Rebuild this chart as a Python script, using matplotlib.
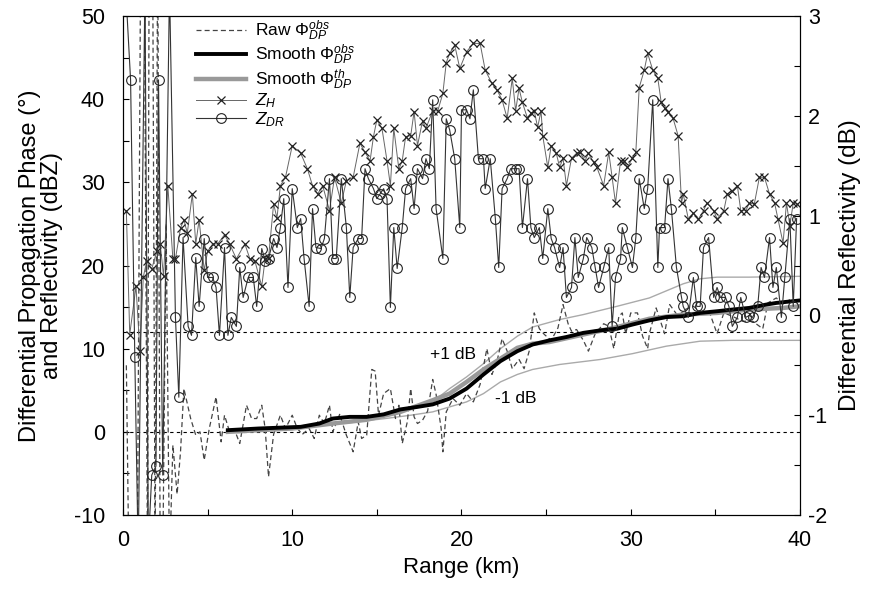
import numpy as np
import matplotlib.pyplot as plt
from matplotlib.ticker import MultipleLocator

plt.rcParams['font.family'] = ['Liberation Sans', 'DejaVu Sans']
plt.rcParams['mathtext.fontset'] = 'custom'
plt.rcParams['mathtext.rm'] = 'Liberation Sans'
plt.rcParams['mathtext.it'] = 'Liberation Sans:italic'
plt.rcParams['axes.unicode_minus'] = False

# reflectivity Z_H (dBZ), left axis
zh_km = [0.2, 0.4, 0.77, 1.0, 1.2, 1.4, 1.7, 2.0, 2.2, 2.4, 2.65, 2.95, 3.1, 3.4, 3.6, 3.8,
         4.1, 4.3, 4.5, 4.8, 5.0, 5.3, 5.6, 6.0, 6.3, 6.7, 7.2, 7.5, 7.8, 8.2, 8.4, 8.6,
         8.9, 9.1, 9.3, 9.6, 10.0, 10.5, 10.9, 11.2, 11.5, 11.8, 12.2, 12.5, 12.9, 13.2, 13.6, 14.0,
         14.3, 14.6, 14.8, 15.0, 15.3, 15.6, 15.8, 16.0, 16.3, 16.5, 16.7, 17.0, 17.2, 17.4, 17.7, 17.9,
         18.3, 18.6, 18.9, 19.1, 19.3, 19.6, 19.9, 20.3, 20.7, 21.1, 21.4, 21.8, 22.1, 22.4, 22.7, 23.0,
         23.2, 23.4, 23.6, 23.9, 24.1, 24.3, 24.5, 24.7, 24.8, 25.1, 25.3, 25.6, 25.8, 26.0, 26.2, 26.5,
         26.8, 27.0, 27.3, 27.5, 27.8, 28.0, 28.4, 28.7, 28.9, 29.1, 29.4, 29.6, 29.8, 30.1, 30.3, 30.5,
         30.8, 31.0, 31.3, 31.6, 31.8, 32.0, 32.2, 32.5, 32.8, 33.0, 33.1, 33.4, 33.7, 34.0, 34.3, 34.5,
         34.9, 35.1, 35.5, 35.7, 36.0, 36.3, 36.5, 36.8, 37.0, 37.3, 37.6, 37.9, 38.2, 38.5, 38.7, 39.0,
         39.2, 39.4, 39.6, 39.8]
zh_dbz = [26.6, 11.7, 17.5, 9.7, 18.6, 20.5, 19.6, 21.7, 22.6, 18.7, 29.6, 20.8, 20.8, 24.5, 25.5, 23.9,
          28.6, 22.6, 25.5, 19.4, 21.7, 22.6, 22.6, 23.7, 22.6, 20.8, 22.6, 20.8, 20.5, 17.5, 20.8, 20.9,
          27.4, 25.7, 29.6, 30.6, 34.4, 33.5, 31.6, 29.6, 28.6, 29.6, 26.6, 30.6, 27.5, 30.2, 30.6, 34.7,
          33.6, 32.6, 35.5, 37.5, 36.5, 32.6, 29.6, 36.5, 31.6, 32.6, 35.5, 35.6, 38.5, 34.4, 37.4, 36.5,
          38.6, 38.6, 40.7, 44.4, 45.5, 46.5, 43.7, 45.7, 46.7, 46.7, 43.5, 41.9, 41.1, 39.9, 37.7, 42.5,
          38.6, 41.3, 39.6, 37.7, 38.3, 38.6, 36.6, 38.6, 35.6, 31.8, 34.4, 33.5, 31.8, 32.9, 29.6, 32.9,
          33.5, 33.6, 32.6, 33.5, 32.4, 31.8, 29.6, 33.6, 30.6, 27.5, 32.6, 32.6, 31.8, 32.9, 33.6, 41.4,
          43.5, 45.5, 43.5, 42.5, 39.6, 38.9, 38.4, 37.7, 35.6, 27.5, 28.6, 25.6, 26.3, 25.6, 26.6, 27.5,
          26.6, 25.6, 26.6, 28.6, 29.0, 29.6, 26.6, 26.6, 27.5, 27.4, 30.6, 30.6, 28.6, 27.5, 25.6, 22.7,
          27.5, 24.8, 27.5, 27.4]

# differential reflectivity Z_DR (dB), right axis
zdr_km = [0.15, 0.45, 0.7, 0.9, 1.3, 1.5, 1.7, 1.95, 2.1, 2.35, 2.75, 3.1, 3.3, 3.55, 3.85, 4.05,
          4.3, 4.5, 4.8, 5.0, 5.3, 5.5, 5.7, 6.0, 6.2, 6.4, 6.7, 6.9, 7.1, 7.4, 7.7, 7.9,
          8.2, 8.4, 8.6, 8.9, 9.1, 9.3, 9.5, 9.75, 10.0, 10.3, 10.5, 10.7, 11.0, 11.2, 11.4, 11.7,
          11.9, 12.2, 12.4, 12.6, 12.9, 13.2, 13.4, 13.6, 13.9, 14.1, 14.3, 14.5, 14.8, 15.0, 15.2, 15.4,
          15.6, 15.8, 16.0, 16.2, 16.5, 16.7, 17.0, 17.2, 17.4, 17.7, 17.9, 18.1, 18.3, 18.5, 18.9, 19.1,
          19.3, 19.6, 19.9, 20.0, 20.3, 20.5, 20.7, 21.0, 21.3, 21.4, 21.7, 22.0, 22.2, 22.4, 22.7, 22.9,
          23.2, 23.4, 23.6, 23.9, 24.1, 24.3, 24.6, 24.8, 25.1, 25.3, 25.5, 25.8, 26.0, 26.2, 26.5, 26.7,
          26.9, 27.2, 27.4, 27.7, 27.9, 28.1, 28.4, 28.7, 28.9, 29.1, 29.4, 29.5, 29.8, 30.1, 30.3, 30.5,
          30.8, 31.0, 31.3, 31.6, 31.7, 32.0, 32.2, 32.4, 32.7, 33.0, 33.1, 33.4, 33.7, 33.9, 34.1, 34.3,
          34.6, 34.9, 35.1, 35.3, 35.6, 35.8, 36.0, 36.3, 36.5, 36.8, 37.0, 37.2, 37.5, 37.7, 37.9, 38.2,
          38.4, 38.6, 38.9, 39.1, 39.4, 39.6, 39.8]
zdr_db = [3.3, 2.36, -0.42, -2.4, 3.3, -2.3, -1.6, -1.51, 2.36, -1.6, 3.3, -0.02, -0.82, 0.78, -0.11, -0.2,
          0.58, 0.09, 0.77, 0.38, 0.38, 0.28, -0.2, 0.68, -0.2, -0.02, -0.11, 0.48, 0.18, 0.38, 0.38, 0.09,
          0.67, 0.55, 0.57, 0.77, 0.68, 0.88, 1.17, 0.28, 1.27, 0.88, 0.97, 0.57, 0.09, 1.07, 0.68, 0.67,
          0.77, 1.37, 0.57, 0.57, 1.37, 0.88, 0.18, 0.68, 0.77, 0.77, 1.47, 1.37, 1.27, 1.17, 1.22, 1.27,
          1.17, 0.08, 0.88, 0.47, 0.88, 1.27, 1.37, 1.07, 1.47, 1.37, 1.57, 1.47, 2.16, 1.07, 0.57, 1.97,
          1.86, 1.57, 0.88, 2.06, 2.06, 1.97, 2.26, 1.57, 1.57, 1.27, 1.57, 0.97, 0.48, 1.27, 1.37, 1.47,
          1.47, 1.47, 0.88, 1.37, 0.88, 0.78, 0.88, 0.57, 1.07, 0.77, 0.68, 0.48, 0.68, 0.18, 0.28, 0.78,
          0.38, 0.57, 0.78, 0.68, 0.48, 0.28, 0.48, 0.68, -0.11, 0.38, 0.57, 0.88, 0.68, 0.48, 0.78, 1.37,
          1.07, 1.27, 2.16, 0.48, 0.88, 0.88, 1.37, 1.07, 0.48, 0.18, 0.09, -0.02, 0.38, 0.09, 0.09, 0.68,
          0.78, 0.18, 0.28, 0.18, 0.18, 0.09, -0.11, -0.02, 0.18, -0.02, 0.0, -0.02, 0.09, 0.48, 0.38, 0.78,
          0.28, 0.48, -0.02, 0.38, 0.97, 0.09, 0.97]

# raw observed differential phase (deg)
raw_km = [0.2, 0.35, 0.85, 1.05, 1.25, 1.45, 1.55, 1.75, 1.9, 2.05, 2.2, 2.35, 2.55, 2.75, 2.95, 3.2,
          3.4, 3.6, 4.0, 4.3, 4.55, 4.8, 5.1, 5.5, 5.8, 6.0, 6.3, 6.6, 6.9, 7.3, 7.6, 7.9,
          8.2, 8.4, 8.6, 8.9, 9.3, 9.6, 10.0, 10.3, 10.6, 11.0, 11.3, 11.6, 11.9, 12.2, 12.4, 12.8,
          13.2, 13.6, 13.9, 14.1, 14.4, 14.7, 14.9, 15.1, 15.4, 15.8, 16.1, 16.3, 16.5, 16.8, 17.0, 17.2,
          17.4, 17.7, 18.0, 18.3, 18.5, 18.8, 18.9, 19.1, 19.5, 19.9, 20.3, 20.7, 21.1, 21.5, 21.8, 22.1,
          22.4, 22.7, 23.0, 23.4, 23.7, 24.0, 24.3, 24.6, 24.9, 25.3, 25.7, 26.0, 26.3, 26.5, 26.8, 27.2,
          27.5, 27.9, 28.4, 28.7, 29.0, 29.3, 29.5, 29.7, 30.0, 30.4, 30.7, 31.0, 31.1, 31.5, 32.0, 32.3,
          32.8, 33.2, 33.7, 34.1, 34.7, 35.1, 35.5, 36.0, 36.6, 37.2, 37.8, 38.1, 38.6, 39.0, 39.4, 39.8]
raw_deg = [8, -16, -16, 60, 60, -16, 60, 60, -16, 60, -16, -16, 25, -16, -1.6, -7.5,
           -2.4, 5.2, 1.6, -0.4, 0.0, -3.4, 0.4, 4.2, -1.2, 2.0, 0.0, 0.2, -1.4, 3.2, 1.6, 1.6,
           3.2, 0.4, -5.4, -0.3, 2.0, 0.4, 2.0, 0.4, -0.3, 0.4, -0.8, 2.0, 1.0, 3.2, 0.0, 2.1,
           -0.4, -2.4, 1.2, -0.8, -0.4, 7.5, 7.3, 2.0, 4.6, 5.2, 1.6, 3.2, -1.4, 1.2, 5.2, 1.8,
           1.0, 1.4, 2.5, 6.3, 4.5, 0.4, -2.4, 2.4, 4.0, 3.2, 4.6, 3.6, 5.7, 10.0, 6.9, 8.5,
           11.2, 9.7, 7.6, 8.7, 7.6, 9.7, 14.3, 12.4, 11.7, 11.0, 12.5, 15.3, 13.0, 12.1, 12.3, 11.0,
           9.7, 11.8, 13.0, 12.7, 10.0, 13.9, 14.3, 11.8, 14.3, 14.3, 11.5, 10.0, 11.8, 14.9, 11.8, 15.3,
           13.9, 14.7, 15.1, 14.5, 14.1, 11.8, 14.3, 13.9, 13.3, 13.3, 12.4, 15.5, 16.1, 15.3, 15.9, 15.5]

# smoothed observed and theoretical differential phase (deg)
obs_km = [6.2, 8.0, 10.5, 11.6, 12.4, 13.4, 14.4, 15.4, 16.4, 17.4, 18.3, 19.3, 20.3, 21.3, 22.3, 23.3,
          24.2, 25.2, 26.2, 27.2, 28.2, 29.2, 30.1, 31.1, 32.1, 33.1, 34.1, 35.1, 36.0, 37.0, 38.0, 38.6, 40.0]
obs_deg = [0.2, 0.4, 0.6, 1.0, 1.6, 1.8, 1.8, 2.1, 2.7, 3.0, 3.3, 4.0, 5.2, 6.9, 8.5, 9.7,
           10.5, 11.0, 11.4, 11.9, 12.2, 12.4, 12.9, 13.4, 13.8, 13.9, 14.3, 14.5, 14.7, 14.9, 15.3, 15.5, 15.8]
th_km = [6.2, 8.0, 10.0, 12.4, 14.4, 16.4, 18.3, 19.3, 20.3, 21.3, 22.3, 23.3, 24.2, 25.2, 27.2, 29.2,
         31.1, 33.1, 35.1, 37.0, 39.0, 40.0]
th_deg = [0.0, 0.2, 0.4, 1.0, 1.45, 2.4, 3.8, 4.6, 6.0, 7.5, 8.8, 10.1, 10.6, 10.8, 11.7, 12.6,
          13.6, 14.1, 14.3, 14.7, 14.9, 15.1]

# theoretical phase for Z_DR offset of +1 dB and -1 dB
up_km = [13.0, 15.5, 17.0, 18.3, 19.3, 20.3, 21.3, 22.3, 23.3, 24.2, 25.8, 27.2, 29.2, 31.1, 33.1, 34.1,
         35.1, 37.0, 40.0]
up_deg = [1.1, 2.1, 2.9, 3.6, 5.2, 6.6, 8.2, 10.0, 11.5, 12.6, 13.5, 14.1, 15.1, 16.1, 17.8, 18.4,
          18.6, 18.6, 18.7]
lo_km = [13.0, 15.5, 17.0, 18.3, 20.3, 21.3, 22.3, 23.3, 24.2, 25.8, 28.2, 30.1, 32.1, 34.1, 36.0, 40.0]
lo_deg = [1.0, 1.6, 2.0, 2.4, 3.6, 4.6, 6.0, 6.9, 7.5, 8.1, 8.7, 9.4, 10.3, 10.9, 11.0, 11.0]

fig = plt.figure(figsize=(8.69, 5.90), dpi=100)
ax = fig.add_axes([0.1415, 0.1271, 0.7791, 0.8458])
ax2 = ax.twinx()

ax.axhline(0, color='black', ls=(0, (3, 3)), lw=0.8)
ax.axhline(12, color='black', ls=(0, (3, 3)), lw=0.8)

ax.plot(up_km, up_deg, color='#aaaaaa', lw=1.0)
ax.plot(lo_km, lo_deg, color='#aaaaaa', lw=1.0)
h_raw, = ax.plot(raw_km, raw_deg, color='#444444', ls=(0, (4, 2.5)), lw=0.9, label=r'Raw $\Phi_{DP}^{obs}$')
h_th, = ax.plot(th_km, th_deg, color='#999999', lw=3.2, label=r'Smooth $\Phi_{DP}^{th}$')
h_obs, = ax.plot(obs_km, obs_deg, color='black', lw=2.8, label=r'Smooth $\Phi_{DP}^{obs}$')
h_zh, = ax.plot(zh_km, zh_dbz, color='#666666', lw=0.7, marker='x', ms=5.5, mew=0.9,
                mec='#222222', label=r'$Z_H$')

h_zdr, = ax2.plot(zdr_km, zdr_db, color='#333333', lw=0.8, marker='o', ms=7, mfc='none',
                  mec='#222222', mew=0.8, label=r'$Z_{DR}$')

ax.text(19.5, 9.3, '+1 dB', fontsize=12.5, ha='center', va='center')
ax.text(23.2, 4.0, '-1 dB', fontsize=12.5, ha='center', va='center')

ax.set_xlim(0, 40)
ax.set_ylim(-10, 50)
ax2.set_ylim(-2, 3)
ax.xaxis.set_major_locator(MultipleLocator(10))
ax.xaxis.set_minor_locator(MultipleLocator(5))
ax.yaxis.set_major_locator(MultipleLocator(10))
ax.yaxis.set_minor_locator(MultipleLocator(5))
ax2.yaxis.set_major_locator(MultipleLocator(1))
ax2.yaxis.set_minor_locator(MultipleLocator(0.5))
for a in (ax, ax2):
    a.tick_params(which='both', direction='in', labelsize=15.5, length=4.5, width=0.8)
ax.tick_params(axis='x', pad=11)
ax.tick_params(axis='y', pad=13)
ax2.tick_params(axis='y', pad=6)

ax.set_xlabel('Range (km)', fontsize=16, labelpad=4)
ax.set_ylabel('Differential Propagation Phase (°)\nand Reflectivity (dBZ)', fontsize=17,
              linespacing=0.95, labelpad=8)
ax2.set_ylabel('Differential Reflectivity (dB)', fontsize=17.5, labelpad=8)

ax.legend([h_raw, h_obs, h_th, h_zh, h_zdr],
          [h.get_label() for h in (h_raw, h_obs, h_th, h_zh, h_zdr)],
          loc='upper left', bbox_to_anchor=(0.108, 0.995), frameon=False, fontsize=12.5,
          handlelength=2.9, handletextpad=0.5, labelspacing=0.0, borderpad=0.0,
          borderaxespad=0.0)

fig.savefig('out.png', dpi=100)
